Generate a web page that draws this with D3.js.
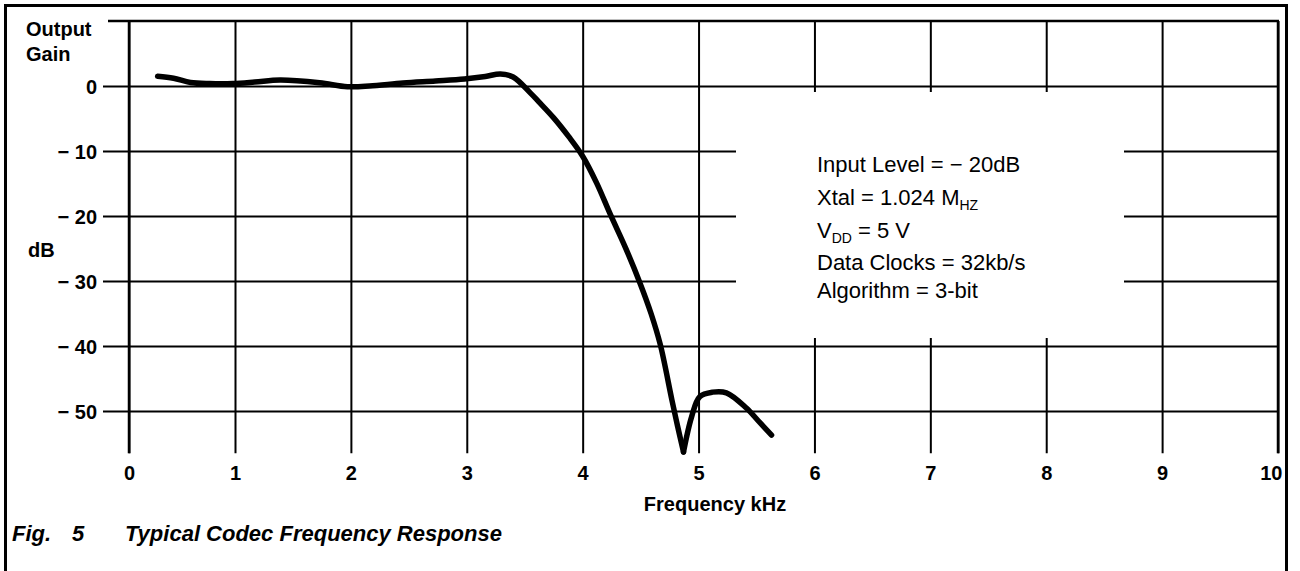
<!DOCTYPE html>
<html><head><meta charset="utf-8">
<script src="https://cdn.jsdelivr.net/npm/d3@7"></script>
<style>
body{margin:0;background:#fff}
svg{display:block}
text{font-family:"Liberation Sans",Arial,Helvetica,sans-serif;fill:#000}
</style>
</head><body>
<svg id="chart" width="1300" height="571"></svg>
<script>
// ---- data ----
const freqTicks = [0,1,2,3,4,5,6,7,8,9,10];
const gainTicks = [0,-10,-20,-30,-40,-50];
const freqKHz = [0.27,0.42,0.58,0.76,0.98,1.17,1.39,1.73,1.97,2.16,2.45,2.73,2.98,3.16,3.29,3.40,3.55,3.62,3.75,3.88,4.00,4.12,4.24,4.37,4.49,4.59,4.67,4.77,4.82,4.87,4.94,5.01,5.12,5.24,5.41,5.53,5.63];
const gainDB  = [1.5,1.2,0.55,0.38,0.38,0.6,0.92,0.5,-0.1,0.0,0.46,0.77,1.08,1.46,1.85,1.38,-1.1,-2.4,-4.9,-7.8,-10.8,-14.9,-19.8,-24.9,-30.1,-35.0,-39.8,-48.3,-52.4,-56.3,-50.9,-47.8,-47.1,-47.2,-49.5,-51.8,-53.7];
const noteLines = [
  [["Input Level = − 20dB",""]],
  [["Xtal = 1.024 M",""],["HZ","sub"]],
  [["V",""],["DD","sub"],[" = 5 V",""]],
  [["Data Clocks = 32kb/s",""]],
  [["Algorithm = 3-bit",""]]
];
const yTitle = ["Output","Gain"];
const yUnit = "dB";
const xTitle = "Frequency kHz";
const caption = ["Fig.","5","Typical Codec Frequency Response"];

// ---- drawing ----
const svg = d3.select("#chart");
const x = d3.scaleLinear().domain([0,1,10]).range([129,235,1278]);
const y = d3.scaleLinear().domain([0,-50]).range([86,411]);
const yTop = 10, yBottom = -56.5;

// outer frame
svg.append("rect").attr("x",5.5).attr("y",5.5).attr("width",1281).attr("height",620)
  .attr("fill","none").attr("stroke","#000").attr("stroke-width",3);

// top border of grid
svg.append("line").attr("x1",108).attr("x2",x(10)+1).attr("y1",y(yTop)).attr("y2",y(yTop))
  .attr("stroke","#000").attr("stroke-width",2.5);

// vertical grid via bottom axis
const gx = svg.append("g").attr("transform",`translate(0,${y(yTop)})`)
  .call(d3.axisBottom(x).tickValues(freqTicks).tickSize(y(yBottom)-y(yTop)).tickPadding(14).tickFormat(d3.format("d")));
gx.select(".domain").remove();
gx.selectAll(".tick line").attr("stroke","#000").attr("stroke-width",2);
gx.selectAll(".tick text").attr("font-size",20).attr("font-weight","bold")
  .attr("font-family","'Liberation Sans',Arial,sans-serif").attr("dy",null)
  .attr("y",y(yBottom)-y(yTop)+27).attr("fill","#000");
gx.selectAll(".tick text").filter(d => d === 10).attr("text-anchor","end").attr("x",4);

// horizontal grid via left axis
const gy = svg.append("g").attr("transform","translate(103,0)")
  .call(d3.axisLeft(y).tickValues(gainTicks).tickSize(-(x(10)-103)).tickPadding(6)
    .tickFormat(d => d < 0 ? "− " + Math.abs(d) : String(d)));
gy.select(".domain").remove();
gy.selectAll(".tick line").attr("stroke","#000").attr("stroke-width",2);
gy.selectAll(".tick text").attr("font-size",20).attr("font-weight","bold")
  .attr("font-family","'Liberation Sans',Arial,sans-serif").attr("fill","#000").attr("dy","0.36em");

// y-axis line and right edge thicker
svg.append("line").attr("x1",x(0)).attr("x2",x(0)).attr("y1",y(yTop)).attr("y2",y(yBottom))
  .attr("stroke","#000").attr("stroke-width",2.5);
svg.append("line").attr("x1",x(10)).attr("x2",x(10)).attr("y1",y(yTop)).attr("y2",y(yBottom))
  .attr("stroke","#000").attr("stroke-width",2.5);

// annotation mask
svg.append("rect").attr("x",736).attr("y",92).attr("width",1124-736).attr("height",338-92).attr("fill","#fff");

// annotation text
const noteBase = [172,205,238,270,298];
noteLines.forEach((segs,i) => {
  const t = svg.append("text").attr("x",817).attr("y",noteBase[i]).attr("font-size",22);
  let shifted = false;
  segs.forEach(([s,kind]) => {
    const ts = t.append("tspan").text(s);
    if (kind === "sub") { ts.attr("font-size",14).attr("dy",5); shifted = true; }
    else if (shifted) { ts.attr("dy",-5); shifted = false; }
  });
});

// curve
const pts = freqKHz.map((f,i) => [f, gainDB[i]]);
const iMin = d3.minIndex(gainDB);
const line = d3.line().x(d => x(d[0])).y(d => y(d[1])).curve(d3.curveCatmullRom.alpha(0.5));
[pts.slice(0,iMin+1), pts.slice(iMin)].forEach(seg => {
  svg.append("path").attr("d",line(seg)).attr("fill","none").attr("stroke","#000")
    .attr("stroke-width",5.5).attr("stroke-linecap","round").attr("stroke-linejoin","round");
});

// titles
const yt = svg.append("text").attr("font-size",20).attr("font-weight","bold");
yt.append("tspan").attr("x",26).attr("y",36).text(yTitle[0]);
yt.append("tspan").attr("x",26).attr("y",61).text(yTitle[1]);
svg.append("text").attr("x",28).attr("y",257).attr("font-size",20).attr("font-weight","bold").text(yUnit);
svg.append("text").attr("x",715).attr("y",511).attr("text-anchor","middle").attr("font-size",20).attr("font-weight","bold").text(xTitle);
const cap = svg.append("text").attr("font-size",22).attr("font-weight","bold").attr("font-style","italic").attr("y",541);
cap.append("tspan").attr("x",12).text(caption[0]);
cap.append("tspan").attr("x",72).text(caption[1]);
cap.append("tspan").attr("x",125).text(caption[2]);
</script>
</body></html>
